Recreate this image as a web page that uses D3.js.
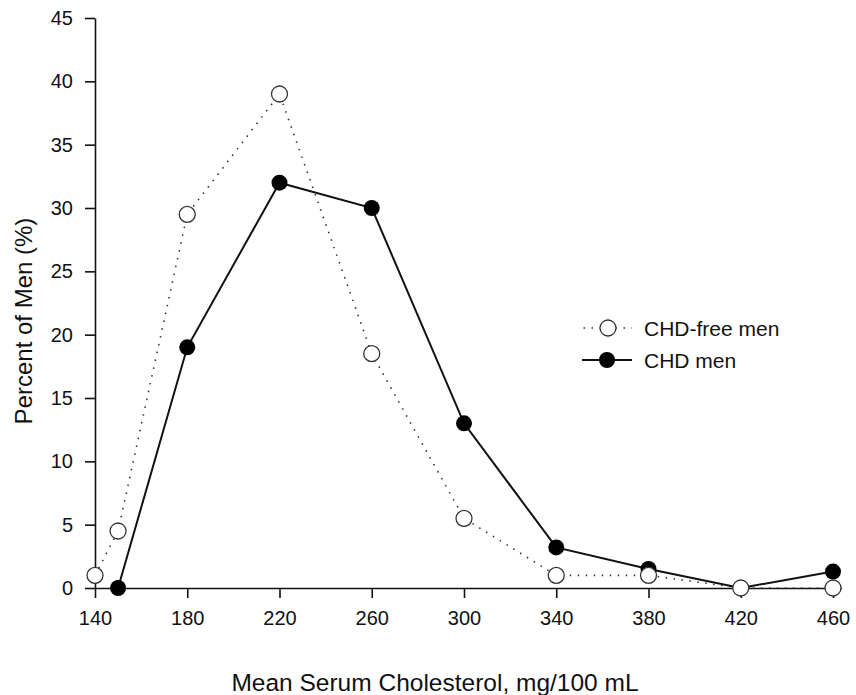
<!DOCTYPE html>
<html><head><meta charset="utf-8">
<script src="https://cdn.jsdelivr.net/npm/d3@7"></script>
<style>body{margin:0;background:#fff}svg{display:block}text{font-family:"Liberation Sans",Arial,sans-serif;fill:#111}</style>
</head><body>
<script>
const xTicks = [140,180,220,260,300,340,380,420,460];
const yTicks = [0,5,10,15,20,25,30,35,40,45];
const freeX = [140,150,180,220,260,300,340,380,420,460];
const freeY = [1,4.5,29.5,39,18.5,5.5,1,1,0,0];
const chdX = [150,180,220,260,300,340,380,420,460];
const chdY = [0,19,32,30,13,3.2,1.5,0,1.3];
const seriesNames = ["CHD-free men","CHD men"];
const xTitle = "Mean Serum Cholesterol, mg/100 mL";
const yTitle = "Percent of Men (%)";

const W=856,H=695;
const svg=d3.select("body").append("svg").attr("width",W).attr("height",H);
const x=d3.scaleLinear().domain([140,460]).range([95,833]);
const y=d3.scaleLinear().domain([0,45]).range([588,18]);

const xa=svg.append("g").attr("transform","translate(0,588)")
  .call(d3.axisBottom(x).tickValues(xTicks).tickSize(10).tickSizeOuter(0).tickPadding(9));
xa.select(".domain").attr("d","M95,0.5H842");
const ya=svg.append("g").attr("transform","translate(95,0)")
  .call(d3.axisLeft(y).tickValues(yTicks).tickSize(10).tickSizeOuter(0).tickPadding(12));
[xa,ya].forEach(g=>{g.selectAll("path,line").attr("stroke","#111").attr("stroke-width",1.6);
  g.selectAll("text").style("font-size","20px").attr("fill","#111").style("font-family",'"Liberation Sans",Arial,sans-serif');});
xa.selectAll("text").attr("dy","0.9em");

const free=freeX.map((v,i)=>({x:v,y:freeY[i]}));
const chd=chdX.map((v,i)=>({x:v,y:chdY[i]}));
const line=d3.line().x(d=>x(d.x)).y(d=>y(d.y));

svg.append("path").attr("d",line(free)).attr("fill","none").attr("stroke","#333")
  .attr("stroke-width",1.6).attr("stroke-dasharray","1.5,6.5");
svg.append("path").attr("d",line(chd)).attr("fill","none").attr("stroke","#111").attr("stroke-width",2);
svg.selectAll(".c").data(chd).enter().append("circle").attr("cx",d=>x(d.x)).attr("cy",d=>y(d.y))
  .attr("r",8).attr("fill","#000");
svg.selectAll(".o").data(free).enter().append("circle").attr("cx",d=>x(d.x)).attr("cy",d=>y(d.y))
  .attr("r",8).attr("fill","#fff").attr("stroke","#333").attr("stroke-width",1.3);

// legend
const lg=svg.append("g");
lg.append("line").attr("x1",583).attr("x2",632).attr("y1",328).attr("y2",328)
  .attr("stroke","#333").attr("stroke-width",1.6).attr("stroke-dasharray","1.5,6.5").attr("stroke-dashoffset",-0.5);
lg.append("circle").attr("cx",608).attr("cy",328).attr("r",8).attr("fill","#fff").attr("stroke","#333").attr("stroke-width",1.3);
lg.append("text").attr("x",644).attr("y",336).style("font-size","21px").text(seriesNames[0]);
lg.append("line").attr("x1",582).attr("x2",632).attr("y1",360).attr("y2",360).attr("stroke","#111").attr("stroke-width",2);
lg.append("circle").attr("cx",607).attr("cy",360).attr("r",8).attr("fill","#000");
lg.append("text").attr("x",644).attr("y",368).style("font-size","21px").text(seriesNames[1]);

svg.append("text").attr("x",435).attr("y",691).attr("text-anchor","middle").style("font-size","24.5px").text(xTitle);
svg.append("text").attr("transform","translate(32,321) rotate(-90)").attr("text-anchor","middle").style("font-size","24px").text(yTitle);
</script>
</body></html>
